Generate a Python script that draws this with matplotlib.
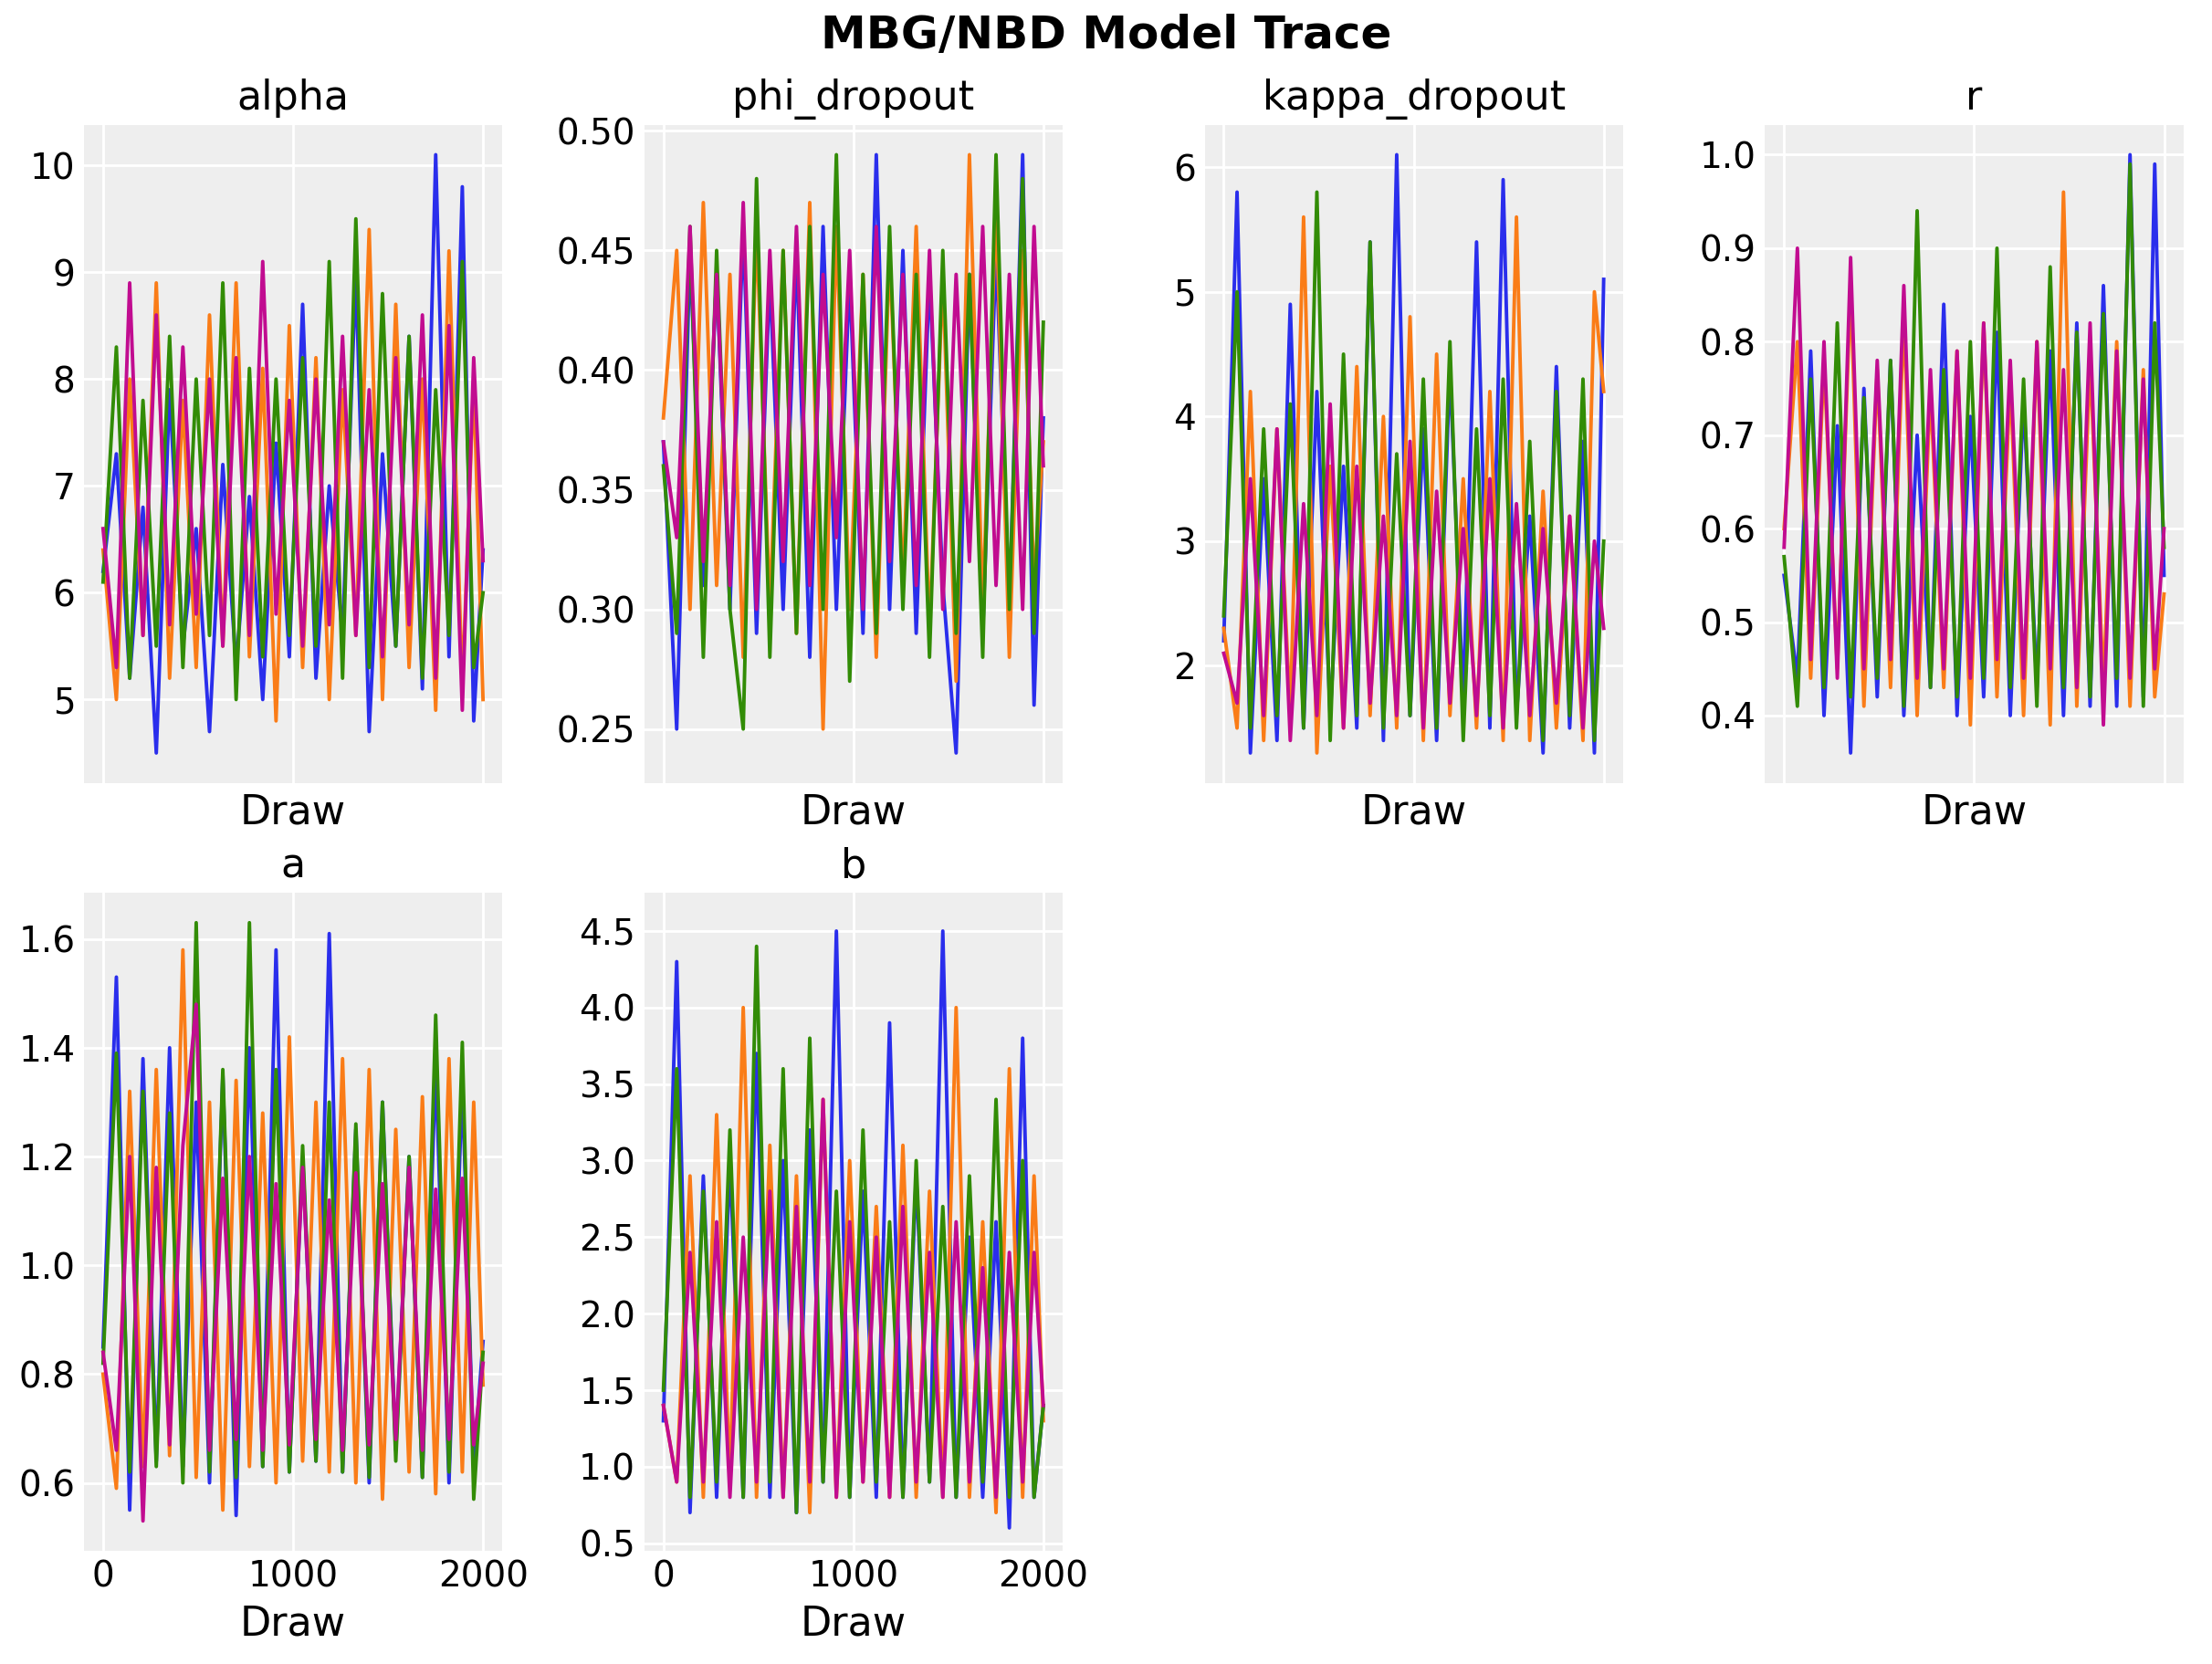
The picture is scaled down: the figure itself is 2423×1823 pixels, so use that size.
import matplotlib.pyplot as plt
import numpy as np

# values read (coarsely) from the trace, one list per chain
draws = [0, 70, 140, 210, 280, 350, 420, 490, 560, 630, 700, 770, 840, 910, 980,
         1050, 1120, 1190, 1260, 1330, 1400, 1470, 1540, 1610, 1680, 1750, 1820, 1890, 1950, 1999]

alpha = [
    [6.2, 7.3, 5.2, 6.8, 4.5, 7.9, 5.5, 6.6, 4.7, 7.2, 5.3, 6.9, 5.0, 7.4, 5.4, 8.7, 5.2, 7.0, 5.6, 9.0, 4.7, 7.3, 5.5, 8.4, 5.1, 10.1, 5.4, 9.8, 4.8, 6.4],
    [6.4, 5.0, 8.0, 5.6, 8.9, 5.2, 7.8, 5.3, 8.6, 5.5, 8.9, 5.4, 8.1, 4.8, 8.5, 5.3, 8.2, 5.0, 7.9, 5.6, 9.4, 5.0, 8.7, 5.3, 8.0, 4.9, 9.2, 5.1, 8.0, 5.0],
    [6.1, 8.3, 5.2, 7.8, 5.5, 8.4, 5.3, 8.0, 5.6, 8.9, 5.0, 8.1, 5.4, 8.0, 5.6, 8.2, 5.5, 9.1, 5.2, 9.5, 5.3, 8.8, 5.5, 8.4, 5.2, 7.9, 5.6, 9.1, 5.3, 6.0],
    [6.6, 5.3, 8.9, 5.6, 8.6, 5.7, 8.3, 5.8, 8.0, 5.5, 8.2, 5.6, 9.1, 5.8, 7.8, 5.5, 8.0, 5.7, 8.4, 5.6, 7.9, 5.4, 8.2, 5.7, 8.6, 5.2, 8.5, 4.9, 8.2, 6.3],
]
phi_dropout = [
    [0.37, 0.25, 0.45, 0.31, 0.44, 0.30, 0.46, 0.29, 0.44, 0.30, 0.45, 0.28, 0.46, 0.30, 0.44, 0.29, 0.49, 0.30, 0.45, 0.29, 0.44, 0.31, 0.24, 0.44, 0.29, 0.45, 0.30, 0.49, 0.26, 0.38],
    [0.38, 0.45, 0.30, 0.47, 0.31, 0.44, 0.28, 0.46, 0.30, 0.45, 0.29, 0.47, 0.25, 0.46, 0.30, 0.44, 0.28, 0.45, 0.31, 0.46, 0.29, 0.44, 0.27, 0.49, 0.30, 0.47, 0.28, 0.45, 0.31, 0.37],
    [0.36, 0.29, 0.46, 0.28, 0.45, 0.30, 0.25, 0.48, 0.28, 0.45, 0.29, 0.46, 0.30, 0.49, 0.27, 0.44, 0.29, 0.46, 0.30, 0.44, 0.28, 0.45, 0.29, 0.44, 0.28, 0.49, 0.30, 0.48, 0.29, 0.42],
    [0.37, 0.33, 0.46, 0.32, 0.44, 0.31, 0.47, 0.30, 0.45, 0.32, 0.46, 0.31, 0.44, 0.33, 0.45, 0.30, 0.46, 0.32, 0.44, 0.31, 0.45, 0.30, 0.44, 0.32, 0.46, 0.31, 0.44, 0.30, 0.46, 0.36],
]
kappa_dropout = [
    [2.2, 5.8, 1.3, 3.5, 1.4, 4.9, 1.5, 4.2, 1.6, 3.6, 1.5, 5.4, 1.4, 6.1, 1.6, 3.9, 1.4, 4.4, 1.7, 5.4, 1.5, 5.9, 1.6, 3.2, 1.3, 4.4, 1.5, 3.8, 1.3, 5.1],
    [2.3, 1.5, 4.2, 1.4, 3.9, 1.6, 5.6, 1.3, 3.6, 1.5, 4.4, 1.6, 4.0, 1.5, 4.8, 1.4, 4.5, 1.6, 3.5, 1.5, 4.2, 1.4, 5.6, 1.4, 3.4, 1.5, 3.2, 1.4, 5.0, 4.2],
    [2.4, 5.0, 1.5, 3.9, 1.6, 4.1, 1.5, 5.8, 1.4, 4.5, 1.6, 5.4, 1.5, 3.7, 1.6, 4.3, 1.5, 4.6, 1.4, 3.9, 1.6, 4.3, 1.5, 3.8, 1.4, 4.2, 1.6, 4.3, 1.4, 3.0],
    [2.1, 1.7, 3.5, 1.6, 3.9, 1.4, 3.3, 1.6, 4.1, 1.5, 3.6, 1.7, 3.2, 1.6, 3.8, 1.5, 3.4, 1.7, 3.1, 1.6, 3.5, 1.5, 3.3, 1.6, 3.1, 1.7, 3.2, 1.5, 3.0, 2.3],
]
r = [
    [0.55, 0.44, 0.79, 0.40, 0.71, 0.36, 0.75, 0.42, 0.78, 0.40, 0.70, 0.43, 0.84, 0.40, 0.72, 0.42, 0.81, 0.40, 0.74, 0.43, 0.79, 0.40, 0.82, 0.41, 0.86, 0.41, 1.00, 0.42, 0.99, 0.55],
    [0.60, 0.80, 0.44, 0.78, 0.45, 0.86, 0.41, 0.77, 0.43, 0.83, 0.40, 0.75, 0.43, 0.79, 0.39, 0.82, 0.42, 0.76, 0.40, 0.80, 0.39, 0.96, 0.41, 0.78, 0.43, 0.80, 0.41, 0.77, 0.42, 0.53],
    [0.57, 0.41, 0.76, 0.43, 0.82, 0.42, 0.74, 0.44, 0.78, 0.41, 0.94, 0.43, 0.77, 0.42, 0.80, 0.44, 0.90, 0.43, 0.76, 0.41, 0.88, 0.43, 0.81, 0.42, 0.83, 0.44, 0.99, 0.41, 0.82, 0.58],
    [0.58, 0.90, 0.46, 0.80, 0.44, 0.89, 0.45, 0.78, 0.46, 0.86, 0.44, 0.77, 0.45, 0.79, 0.44, 0.82, 0.46, 0.78, 0.44, 0.80, 0.45, 0.77, 0.43, 0.82, 0.39, 0.79, 0.44, 0.76, 0.45, 0.60],
]
a = [
    [0.85, 1.53, 0.55, 1.38, 0.64, 1.40, 0.63, 1.30, 0.60, 1.35, 0.54, 1.40, 0.63, 1.58, 0.62, 1.20, 0.64, 1.61, 0.62, 1.25, 0.60, 1.30, 0.66, 1.20, 0.61, 1.37, 0.60, 1.34, 0.63, 0.86],
    [0.80, 0.59, 1.32, 0.63, 1.36, 0.65, 1.58, 0.61, 1.30, 0.55, 1.34, 0.63, 1.28, 0.60, 1.42, 0.64, 1.30, 0.62, 1.38, 0.60, 1.36, 0.57, 1.25, 0.62, 1.31, 0.58, 1.38, 0.62, 1.30, 0.78],
    [0.82, 1.39, 0.62, 1.32, 0.63, 1.28, 0.60, 1.63, 0.62, 1.36, 0.61, 1.63, 0.63, 1.36, 0.62, 1.22, 0.64, 1.30, 0.62, 1.26, 0.61, 1.30, 0.64, 1.20, 0.61, 1.46, 0.62, 1.41, 0.57, 0.84],
    [0.84, 0.66, 1.20, 0.53, 1.18, 0.67, 1.22, 1.48, 0.66, 1.16, 0.68, 1.20, 0.66, 1.15, 0.67, 1.18, 0.68, 1.12, 0.66, 1.17, 0.67, 1.15, 0.68, 1.18, 0.66, 1.14, 0.68, 1.16, 0.67, 0.82],
]
b = [
    [1.3, 4.3, 0.7, 2.9, 0.8, 3.0, 0.8, 3.7, 0.8, 3.0, 0.7, 3.2, 0.9, 4.5, 0.8, 2.8, 0.8, 3.9, 0.8, 2.9, 0.9, 4.5, 0.8, 2.5, 0.8, 2.6, 0.6, 3.8, 0.8, 1.4],
    [1.4, 0.9, 2.9, 0.8, 3.3, 0.9, 4.0, 0.8, 3.1, 0.8, 2.9, 0.7, 3.4, 0.8, 3.0, 0.9, 2.7, 0.8, 3.1, 0.8, 2.8, 0.8, 4.0, 0.8, 2.6, 0.7, 3.6, 0.8, 2.9, 1.3],
    [1.5, 3.6, 0.8, 2.8, 0.9, 3.2, 0.8, 4.4, 0.9, 3.6, 0.7, 3.8, 0.9, 2.8, 0.8, 3.2, 0.9, 2.6, 0.8, 3.0, 0.9, 2.7, 0.8, 2.9, 0.9, 3.4, 0.8, 3.0, 0.8, 1.4],
    [1.4, 0.9, 2.4, 0.9, 2.6, 0.8, 2.5, 0.9, 2.8, 0.8, 2.7, 0.9, 3.4, 0.8, 2.6, 0.9, 2.5, 0.8, 2.7, 0.9, 2.4, 0.8, 2.6, 0.9, 2.3, 0.8, 2.4, 0.9, 2.4, 1.4],
]

params = [("alpha", alpha), ("phi_dropout", phi_dropout), ("kappa_dropout", kappa_dropout),
          ("r", r), ("a", a), ("b", b)]
colors = ["#2a2eec", "#fa7c17", "#328c06", "#c10c90"]

fig, axes = plt.subplots(2, 4, figsize=(12.115, 9.115), dpi=200, sharex=True)
axes = axes.ravel()

for i, (name, chains) in enumerate(params):
    ax = axes[i]
    ax.set_facecolor("#eeeeee")
    ax.grid(True, color="white", linewidth=1)
    ax.set_axisbelow(True)
    for s in ax.spines.values():
        s.set_visible(False)
    ax.tick_params(length=0, labelsize=14)
    for c, vals in enumerate(chains):
        ax.plot(draws, vals, color=colors[c], linewidth=1.4)
    ax.set_title(name, fontsize=16)
    ax.set_xlabel("Draw", fontsize=16)
    ax.tick_params(axis="x", labelbottom=(i >= 4))
    ax.set_xticks([0, 1000, 2000])
    ax.set_xlim(-100, 2100)

axes[5].set_yticks([0.5, 1.0, 1.5, 2.0, 2.5, 3.0, 3.5, 4.0, 4.5])
axes[5].set_ylim(0.45, 4.75)
axes[6].remove()
axes[7].remove()

fig.subplots_adjust(left=0.038, right=0.987, top=0.925, bottom=0.068, wspace=0.34, hspace=0.167)
fig.suptitle("MBG/NBD Model Trace", fontsize=18, fontweight="bold", y=0.992)
fig.savefig("out.png")
